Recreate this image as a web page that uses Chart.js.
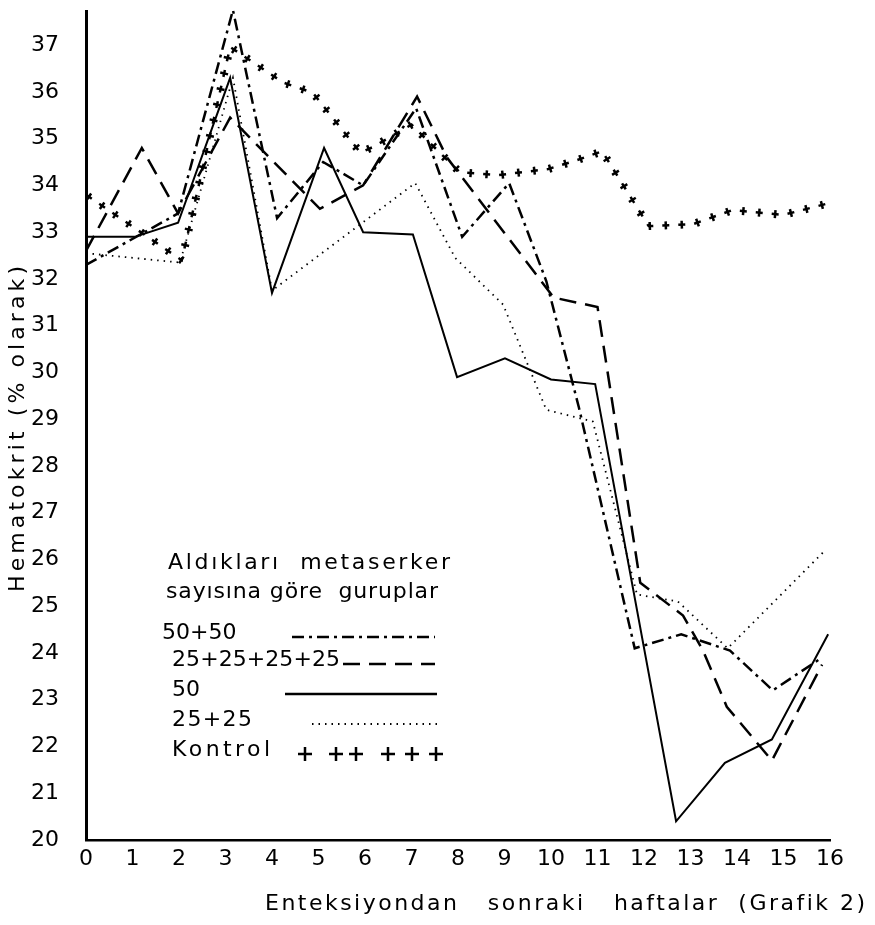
<!DOCTYPE html>
<html lang="tr">
<head>
<meta charset="utf-8">
<title>Hematokrit - Grafik 2</title>
<script src="https://cdn.jsdelivr.net/npm/chart.js@4.4.1/dist/chart.umd.min.js"></script>
<style>
  html, body { margin: 0; padding: 0; background: #fff; }
  #wrap { width: 875px; height: 925px; }
</style>
</head>
<body>
<div id="wrap"><canvas id="hctChart" width="875" height="925"></canvas></div>
<script>
// --- Data: [week after infection, hematocrit %] ---
const xTicks = [0, 1, 2, 3, 4, 5, 6, 7, 8, 9, 10, 11, 12, 13, 14, 15, 16];
const yTicks = [20, 21, 22, 23, 24, 25, 26, 27, 28, 29, 30, 31, 32, 33, 34, 35, 36, 37];

const groupNames = ['50+50', '25+25+25+25', '50', '25+25', 'Kontrol'];

const grp50x2 = [[0, 32.3], [1.98, 33.4], [3.16, 37.75], [4.11, 33.3], [5.1, 34.5], [5.96, 34.0],
    [7.1, 35.65], [8.09, 32.9], [9.1, 34.05], [9.9, 31.95], [10.6, 29.25], [11.8, 24.1],
    [12.8, 24.4], [13.85, 24.05], [14.77, 23.2], [15.75, 23.85]];
const grp25x4 = [[0, 32.6], [1.2, 34.8], [1.98, 33.4], [3.1, 35.45], [5.03, 33.5], [5.96, 34.0],
    [7.12, 35.9], [7.76, 34.6], [10.06, 31.6], [11.0, 31.4], [11.92, 25.5], [12.84, 24.8],
    [13.27, 24.05], [13.78, 22.85], [14.75, 21.7], [15.83, 23.75]];
const grp50 = [[0, 32.9], [1.05, 32.9], [1.98, 33.2], [3.1, 36.3], [4.0, 31.7], [5.12, 34.8],
    [5.96, 33.0], [7.03, 32.95], [7.98, 29.9], [9.01, 30.3], [10.0, 29.85], [10.95, 29.75],
    [12.69, 20.4], [13.74, 21.65], [14.75, 22.15], [15.96, 24.4]];
const grp25x2 = [[0, 32.55], [2.02, 32.35], [3.16, 36.3], [4.0, 31.75], [7.08, 34.05], [7.94, 32.45],
    [8.97, 31.45], [9.9, 29.2], [10.9, 28.95], [11.85, 25.25], [12.73, 25.1], [13.8, 24.1], [15.9, 26.2]];
const kontrol = [[0, 33.8], [2.06, 32.4], [3.1, 36.96], [4.24, 36.2], [4.88, 35.98], [5.9, 34.7],
    [6.17, 34.82], [7.0, 35.3], [7.68, 34.63], [8.04, 34.28], [8.86, 34.22], [9.94, 34.35],
    [10.56, 34.54], [11.1, 34.73], [12.1, 33.13], [13.05, 33.17], [13.9, 33.47], [15.0, 33.37], [15.9, 33.6]];

const FONT = "'DejaVu Sans', sans-serif";

const toPoints = arr => arr.map(([x, y]) => ({ x, y }));

function lineSet(label, arr, width, dash) {
    return {
        label: label,
        data: toPoints(arr),
        borderColor: '#000',
        borderWidth: width,
        borderDash: dash,
        borderCapStyle: 'butt',
        pointRadius: 0,
        tension: 0,
        fill: false,
        clip: 8
    };
}

// text stretched to a given width, like the lettering on the original
function spacedText(ctx, text, x, y, width) {
    ctx.letterSpacing = '0px';
    const w = ctx.measureText(text).width;
    const n = [...text].length;
    ctx.letterSpacing = Math.max(0, (width - w) / (n - 1)) + 'px';
    ctx.fillText(text, x, y);
    ctx.letterSpacing = '0px';
}

// small bars across the Kontrol dashes, turning them into "+" marks
function crossBars(ctx, pts, step, start, len) {
    let next = start;
    let acc = 0;
    for (let i = 0; i < pts.length - 1; i++) {
        const a = pts[i], b = pts[i + 1];
        const dx = b.x - a.x, dy = b.y - a.y, d = Math.hypot(dx, dy);
        if (!d) continue;
        const ux = dx / d, uy = dy / d;
        while (next <= acc + d) {
            const t = next - acc;
            const cx = a.x + ux * t, cy = a.y + uy * t;
            ctx.moveTo(cx - uy * len / 2, cy + ux * len / 2);
            ctx.lineTo(cx + uy * len / 2, cy - ux * len / 2);
            next += step;
        }
        acc += d;
    }
}

function plusMark(ctx, x, y, s) {
    ctx.moveTo(x - s, y); ctx.lineTo(x + s, y);
    ctx.moveTo(x, y - s); ctx.lineTo(x, y + s);
}

const handDrawn = {
    id: 'handDrawn',
    afterDatasetsDraw(chart) {
        const ctx = chart.ctx;
        ctx.save();
        ctx.strokeStyle = '#000';
        ctx.fillStyle = '#000';

        // Kontrol crosses
        const meta = chart.getDatasetMeta(4);
        const pts = meta.data.map(p => ({ x: p.x, y: p.y }));
        ctx.beginPath();
        ctx.lineWidth = 2.5;
        ctx.setLineDash([]);
        crossBars(ctx, pts, 16, 3.5, 8);
        ctx.stroke();

        // legend block
        ctx.textBaseline = 'middle';
        ctx.textAlign = 'left';
        ctx.font = `22px ${FONT}`;
        spacedText(ctx, 'Aldıkları  metaserker', 168, 563, 282);
        spacedText(ctx, 'sayısına göre  guruplar', 166, 592, 272);

        ctx.font = `22px ${FONT}`;
        const rows = [
            { y: 633, x: 162, w: 66, x0: 292, x1: 435, dash: [12, 5, 3, 5], lw: 2.5 },
            { y: 660, x: 172, w: 168, x0: 343, x1: 435, dash: [17, 9], lw: 2.5 },
            { y: 690, x: 172, w: 20, x0: 285, x1: 437, dash: [], lw: 2.5 },
            { y: 720, x: 172, w: 80, x0: 312, x1: 442, dash: [1.5, 5], lw: 1.8 },
            { y: 750, x: 172, w: 98 }
        ];
        rows.forEach((r, i) => {
            spacedText(ctx, groupNames[i], r.x, r.y, r.w);
            if (r.dash) {
                ctx.beginPath();
                ctx.lineWidth = r.lw;
                ctx.setLineDash(r.dash);
                ctx.moveTo(r.x0, r.y + 4);
                ctx.lineTo(r.x1, r.y + 4);
                ctx.stroke();
            }
        });
        ctx.setLineDash([]);
        ctx.lineWidth = 2.5;
        ctx.beginPath();
        [305, 336, 356, 388, 412, 436].forEach(x => plusMark(ctx, x, 754, 7));
        ctx.stroke();

        // axis titles
        ctx.font = `22px ${FONT}`;
        spacedText(ctx, 'Enteksiyondan   sonraki   haftalar  (Grafik 2)', 265, 904, 600);

        ctx.translate(18, 592);
        ctx.rotate(-Math.PI / 2);
        ctx.font = `22px ${FONT}`;
        spacedText(ctx, 'Hematokrit (% olarak)', 0, 0, 326);
        ctx.restore();
    }
};

const ctx = document.getElementById('hctChart').getContext('2d');

new Chart(ctx, {
    type: 'line',
    data: {
        datasets: [
            lineSet(groupNames[0], grp50x2, 2.5, [12, 5, 3, 5]),
            lineSet(groupNames[1], grp25x4, 2.5, [17, 9]),
            lineSet(groupNames[2], grp50, 2, []),
            lineSet(groupNames[3], grp25x2, 1.8, [1.5, 5]),
            lineSet(groupNames[4], kontrol, 2.5, [7, 9])
        ]
    },
    options: {
        responsive: false,
        animation: false,
        devicePixelRatio: 1,
        layout: { padding: { top: 8, right: 45, left: 0, bottom: 0 } },
        plugins: {
            legend: { display: false },
            tooltip: { enabled: false }
        },
        scales: {
            x: {
                type: 'linear',
                min: 0,
                max: 16,
                afterBuildTicks: s => { s.ticks = xTicks.map(v => ({ value: v })); },
                afterFit: s => { s.height = 85; },
                grid: { display: false, drawTicks: false },
                border: { color: '#000', width: 2.5 },
                ticks: { padding: 6, color: '#000', font: { family: FONT, size: 22 } }
            },
            y: {
                type: 'linear',
                min: 20,
                max: 37.73,
                afterBuildTicks: s => { s.ticks = yTicks.map(v => ({ value: v })); },
                afterFit: s => { s.width = 86; },
                grid: { display: true, drawOnChartArea: false, drawTicks: true, tickLength: 27, tickColor: 'rgba(0,0,0,0)' },
                border: { color: '#000', width: 3 },
                ticks: { padding: 0, color: '#000', font: { family: FONT, size: 22, lineHeight: 1 } }
            }
        }
    },
    plugins: [handDrawn]
});
</script>
</body>
</html>
